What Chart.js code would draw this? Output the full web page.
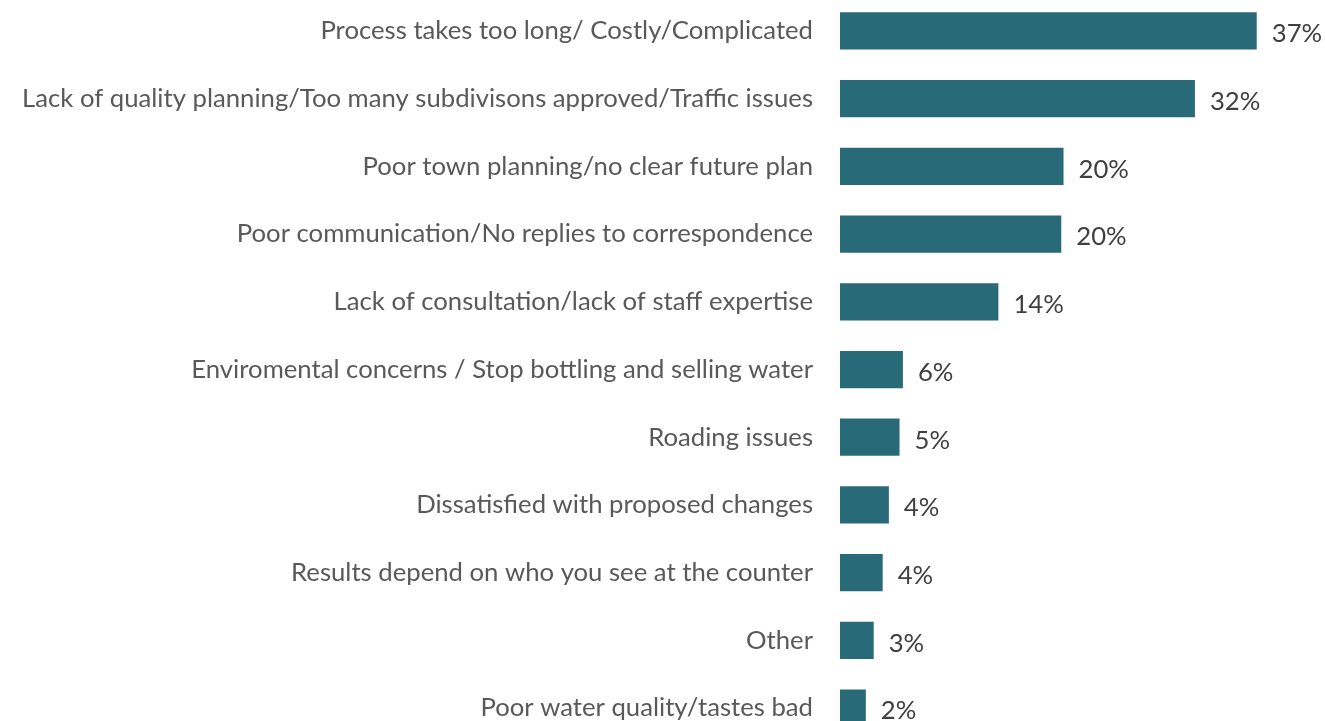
<!DOCTYPE html>
<html>
<head>
<meta charset="utf-8">
<script src="https://cdn.jsdelivr.net/npm/chart.js@4.4.1/dist/chart.umd.min.js"></script>
<style>
  html, body { margin: 0; padding: 0; background: #ffffff; overflow: hidden; }
  #wrap { position: absolute; left: 0; top: -3px; width: 1325px; height: 745px; }
</style>
</head>
<body>
<div id="wrap"><canvas id="myChart"></canvas></div>
<script>
const categories = [
  'Process takes too long/ Costly/Complicated',
  'Lack of quality planning/Too many subdivisons approved/Traffic issues',
  'Poor town planning/no clear future plan',
  'Poor communication/No replies to correspondence',
  'Lack of consultation/lack of staff expertise',
  'Enviromental concerns / Stop bottling and selling water',
  'Roading issues',
  'Dissatisfied with proposed changes',
  'Results depend on who you see at the counter',
  'Other',
  'Poor water quality/tastes bad'
];
const percentValues = [37.1, 31.6, 19.9, 19.7, 14.1, 5.6, 5.3, 4.35, 3.8, 3.0, 2.3];

const barColor = '#286a78';
const labelFont = { family: 'Lato', size: 25.7 };

// writes the rounded percentage just right of each bar
const valueLabels = {
  id: 'valueLabels',
  afterDatasetsDraw(chart) {
    const ctx = chart.ctx;
    const meta = chart.getDatasetMeta(0);
    ctx.save();
    ctx.font = labelFont.size + 'px ' + labelFont.family;
    ctx.fillStyle = '#404040';
    ctx.textAlign = 'left';
    ctx.textBaseline = 'middle';
    meta.data.forEach((bar, i) => {
      const txt = Math.round(percentValues[i]) + '%';
      ctx.fillText(txt, bar.x + 15, bar.y + 3);
    });
    ctx.restore();
  }
};

const ctx = document.getElementById('myChart').getContext('2d');
new Chart(ctx, {
  type: 'bar',
  data: {
    labels: categories,
    datasets: [{
      data: percentValues,
      backgroundColor: barColor,
      borderWidth: 0,
      categoryPercentage: 1,
      barPercentage: 0.55
    }]
  },
  options: {
    indexAxis: 'y',
    responsive: true,
    maintainAspectRatio: false,
    animation: false,
    layout: { padding: { top: 0, bottom: 0, left: 0, right: 2 } },
    plugins: {
      legend: { display: false },
      tooltip: { enabled: false }
    },
    scales: {
      x: {
        display: false,
        min: 0,
        max: 43
      },
      y: {
        grid: { display: false, drawTicks: false },
        border: { display: false },
        ticks: {
          color: '#595959',
          font: labelFont,
          padding: 27,
          autoSkip: false
        },
        afterFit(scale) {
          scale.width = 840;
          // the tick padding should not push the bars away from the top/bottom
          scale.paddingTop = 0;
          scale.paddingBottom = 0;
        }
      }
    }
  },
  plugins: [valueLabels]
});
</script>
</body>
</html>
